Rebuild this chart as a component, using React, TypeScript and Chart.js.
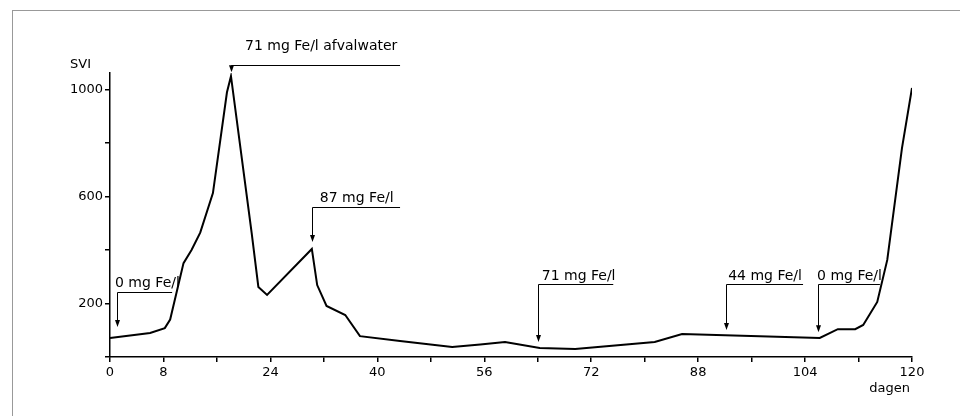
import React, { useEffect, useRef } from 'react';
import { Chart, registerables } from 'chart.js';

Chart.register(...registerables);

// Series: SVI versus days
const days = [0, 6, 8.2, 9, 11, 12.2, 13.5, 15.4, 17.5, 18.1, 21.2, 22.2, 23.5, 30.2, 31, 32.4, 35.2, 37.4, 43.4, 51.2, 55.4, 59.1, 64.3, 69.6, 81.5, 85.6, 106.2, 108.9, 111.5, 112.7, 114.8, 116.3, 118.5, 120];
const svi = [71, 90, 108, 140, 351, 400, 465, 613, 990, 1050, 463, 262, 232, 404, 269, 191, 157, 78, 60, 37, 47, 56, 34, 30, 56, 86, 71, 104, 104, 120, 206, 363, 781, 1006];

// Axis tick labels
const xLabelDays = [0, 8, 24, 40, 56, 72, 88, 104, 120];
const yLabelValues = [200, 600, 1000];
const yTickValues = [0, 200, 400, 600, 800, 1000];

// Annotations (dosing changes)
const annLabels = ['71 mg Fe/l afvalwater', '87 mg Fe/l', '0 mg Fe/l', '71 mg Fe/l', '44 mg Fe/l', '0 mg Fe/l'];
const annDay = [18.1, 30.2, 1.05, 64.0, 92.2, 105.9];
const annTipSvi = [1065, 430, 112, 56, 101, 93];
const annLineSvi = [1092, 561, 243, 273, 273, 273];
const annEndDay = [43.4, 43.4, 9.3, 75.3, 103.7, 115.2];
const annTextDay = [20.2, 31.4, 0.75, 64.6, 92.5, 105.8];
const annTextSvi = [1148, 579, 262, 288, 288, 288];

const FONT = '"DejaVu Sans", sans-serif';

const annPlugin = {
  id: 'annotationsPlugin',
  afterDraw(chart: any) {
    const { ctx, chartArea } = chart;
    const x = chart.scales.x;
    const y = chart.scales.y;
    ctx.save();
    ctx.strokeStyle = '#000';
    ctx.fillStyle = '#000';
    ctx.lineWidth = 1;
    ctx.font = `14px ${FONT}`;
    ctx.textAlign = 'left';
    ctx.textBaseline = 'alphabetic';
    annLabels.forEach((label, i) => {
      const ax = Math.round(x.getPixelForValue(annDay[i])) + 0.5;
      const ly = Math.round(y.getPixelForValue(annLineSvi[i])) + 0.5;
      const ty = y.getPixelForValue(annTipSvi[i]);
      const ex = x.getPixelForValue(annEndDay[i]);
      ctx.beginPath();
      ctx.moveTo(ex, ly);
      ctx.lineTo(ax, ly);
      ctx.lineTo(ax, ty - 4);
      ctx.stroke();
      ctx.beginPath();
      ctx.moveTo(ax - 2.5, ty - 7);
      ctx.lineTo(ax, ty);
      ctx.lineTo(ax + 2.5, ty - 7);
      ctx.closePath();
      ctx.fill();
      ctx.fillText(label, x.getPixelForValue(annTextDay[i]), y.getPixelForValue(annTextSvi[i]));
    });
    ctx.font = `13px ${FONT}`;
    ctx.textAlign = 'left';
    ctx.fillText('SVI', chartArea.left - 40, chartArea.top - 5);
    ctx.textAlign = 'right';
    ctx.fillText('dagen', chartArea.right - 2, chartArea.bottom + 35);
    ctx.restore();
  },
};

export default function App() {
  const ref = useRef<HTMLCanvasElement>(null);
  useEffect(() => {
    const chart = new Chart(ref.current as HTMLCanvasElement, {
      type: 'line',
      data: {
        datasets: [
          {
            data: days.map((d, i) => ({ x: d, y: svi[i] })),
            borderColor: '#000',
            borderWidth: 2,
            pointRadius: 0,
            tension: 0,
            fill: false,
          },
        ],
      },
      options: {
        responsive: false,
        animation: false,
        layout: { padding: { left: 0, right: 48, top: 73, bottom: 0 } },
        plugins: { legend: { display: false }, tooltip: { enabled: false } },
        scales: {
          x: {
            type: 'linear',
            min: 0,
            max: 120,
            afterFit: (s: any) => {
              s.height = 59;
            },
            ticks: {
              stepSize: 8,
              autoSkip: false,
              maxRotation: 0,
              color: '#000',
              padding: 3,
              font: { family: FONT, size: 13 },
              callback: (v: any) => (xLabelDays.includes(Number(v)) ? String(v) : ''),
            },
            grid: { drawOnChartArea: false, drawTicks: true, tickLength: 5, color: '#000', lineWidth: 1.5 },
            border: { display: true, color: '#000', width: 1.5 },
          },
          y: {
            type: 'linear',
            min: 0,
            max: 1062,
            afterFit: (s: any) => {
              s.width = 110;
            },
            afterBuildTicks: (s: any) => {
              s.ticks = yTickValues.map((v) => ({ value: v }));
            },
            ticks: {
              color: '#000',
              padding: 2,
              font: { family: FONT, size: 13 },
              callback: (v: any) => (yLabelValues.includes(Number(v)) ? String(v) : ''),
            },
            grid: { drawOnChartArea: false, drawTicks: true, tickLength: 5, color: '#000', lineWidth: 1.5 },
            border: { display: true, color: '#000', width: 1.5 },
          },
        },
      },
      plugins: [annPlugin],
    });
    return () => chart.destroy();
  }, []);
  return (
    <div style={{ position: 'fixed', left: 0, top: 0, width: 960, height: 416, background: '#fff' }}>
      <div
        style={{
          position: 'absolute',
          left: 12,
          top: 10,
          right: 0,
          bottom: 0,
          borderTop: '1px solid #999',
          borderLeft: '1px solid #999',
        }}
      />
      <canvas ref={ref} width={960} height={416} style={{ position: 'absolute', left: 0, top: 0, width: 960, height: 416 }} />
    </div>
  );
}
